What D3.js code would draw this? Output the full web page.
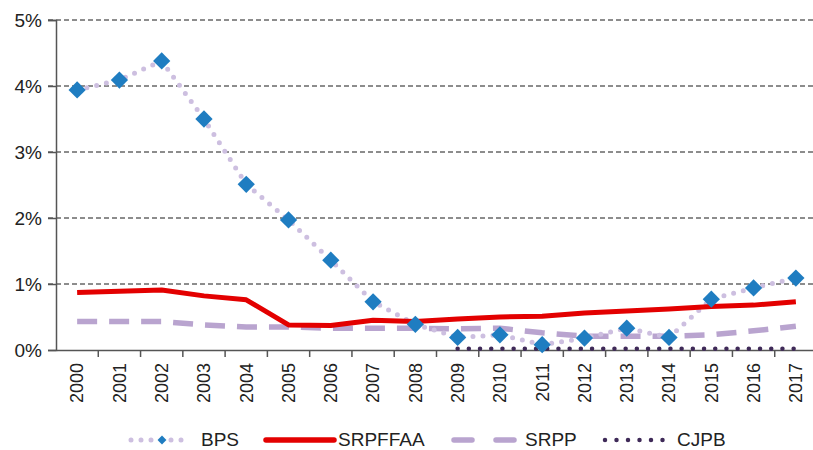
<!DOCTYPE html>
<html>
<head>
<meta charset="utf-8">
<script src="https://cdn.jsdelivr.net/npm/d3@7"></script>
<style>
  body { margin: 0; background: #fff; }
  text { font-family: "Liberation Sans", Arial, sans-serif; fill: #222; }
</style>
</head>
<body>
<div id="chart"></div>
<script>
"use strict";

const years = ["2000","2001","2002","2003","2004","2005","2006","2007","2008",
               "2009","2010","2011","2012","2013","2014","2015","2016","2017"];
const bps     = [3.94, 4.09, 4.38, 3.50, 2.51, 1.97, 1.36, 0.73, 0.39,
                 0.19, 0.23, 0.08, 0.18, 0.33, 0.19, 0.77, 0.94, 1.09];
const srpffaa = [0.87, 0.89, 0.91, 0.82, 0.76, 0.38, 0.37, 0.45, 0.43,
                 0.47, 0.50, 0.51, 0.56, 0.59, 0.62, 0.66, 0.68, 0.73];
const srpp    = [0.43, 0.43, 0.43, 0.38, 0.35, 0.35, 0.33, 0.33, 0.33,
                 0.32, 0.33, 0.26, 0.21, 0.21, 0.21, 0.23, 0.29, 0.36];
const cjpb    = [null, null, null, null, null, null, null, null, null,
                 0.02, 0.02, 0.02, 0.02, 0.02, 0.02, 0.02, 0.02, 0.02];
const yTicks  = [0, 1, 2, 3, 4, 5];

const W = 813, H = 450;
const m = { left: 56, top: 20, bottom: 100 };
const plotRight = 817;   // plot runs slightly past the picture edge

const svg = d3.select("#chart").append("svg")
              .attr("width", W)
              .attr("height", H);

const x = d3.scaleBand().domain(years).range([m.left, plotRight]);
const y = d3.scaleLinear().domain([0, 5]).range([H - m.bottom, m.top]);
const cx = d => x(d) + x.bandwidth() / 2;

// grid
svg.append("g")
   .selectAll("line")
   .data(yTicks.filter(t => t > 0))
   .enter()
   .append("line")
   .attr("x1", m.left - 8).attr("x2", W)
   .attr("y1", d => y(d)).attr("y2", d => y(d))
   .attr("stroke", "#1a1a1a")
   .attr("stroke-width", 1)
   .attr("stroke-dasharray", "5,3");

// y axis
const yAxis = svg.append("g")
   .attr("transform", `translate(${m.left},0)`)
   .call(d3.axisLeft(y).tickValues(yTicks).tickFormat(d => d + "%").tickSize(8).tickPadding(6));
yAxis.select(".domain").attr("stroke", "#555").attr("stroke-width", 1.5);
yAxis.selectAll(".tick line").attr("stroke", "#555").attr("stroke-width", 1.5);
yAxis.selectAll("text").attr("font-size", 19).style("font-family", "Liberation Sans, Arial, sans-serif").attr("fill", "#222");

// x axis
const xAxis = svg.append("g")
   .attr("transform", `translate(0,${y(0)})`)
   .call(d3.axisBottom(x).tickSize(0).tickPadding(0));
xAxis.select(".domain").attr("stroke", "#555").attr("stroke-width", 1.5);
xAxis.selectAll(".tick text")
     .attr("font-size", 18)
     .style("font-family", "Liberation Sans, Arial, sans-serif")
     .attr("fill", "#222")
     .attr("text-anchor", "end")
     .attr("dy", "0.35em")
     .attr("transform", "translate(0,13) rotate(-90)")
     .attr("x", 0).attr("y", 0);
// ticks between categories
svg.append("g")
   .selectAll("line")
   .data(years.slice(1))
   .enter()
   .append("line")
   .attr("x1", d => x(d)).attr("x2", d => x(d))
   .attr("y1", y(0)).attr("y2", y(0) + 7)
   .attr("stroke", "#555").attr("stroke-width", 1.5);

const line = d3.line()
               .defined(d => d[1] != null)
               .x(d => cx(d[0]))
               .y(d => y(d[1]));
const pts = arr => years.map((yr, i) => [yr, arr[i]]);

svg.append("path").datum(pts(srpp))
   .attr("d", line).attr("fill", "none")
   .attr("stroke", "#b9a4cf").attr("stroke-width", 5.5)
   .attr("stroke-dasharray", "20,12");

svg.append("path").datum(pts(cjpb))
   .attr("d", line).attr("fill", "none")
   .attr("stroke", "#3f2a58").attr("stroke-width", 4.5)
   .attr("stroke-linecap", "round")
   .attr("stroke-dasharray", "0,11.2");

svg.append("path").datum(pts(bps))
   .attr("d", line).attr("fill", "none")
   .attr("stroke", "#cdbfe0").attr("stroke-width", 5)
   .attr("stroke-linecap", "round")
   .attr("stroke-dasharray", "0,10");

svg.append("path").datum(pts(srpffaa))
   .attr("d", line).attr("fill", "none")
   .attr("stroke", "#e30000").attr("stroke-width", 5)
   .attr("stroke-linejoin", "round");

const diamond = d3.symbol().type(d3.symbolDiamond2).size(190);
svg.append("g")
   .selectAll("path")
   .data(pts(bps))
   .enter()
   .append("path")
   .attr("d", diamond)
   .attr("transform", d => `translate(${cx(d[0])},${y(d[1])})`)
   .attr("fill", "#1f7dc1");

// legend
const legendY = 440;
const lg = svg.append("g");
lg.append("line").attr("x1", 131).attr("x2", 191).attr("y1", legendY).attr("y2", legendY)
  .attr("stroke", "#cdbfe0").attr("stroke-width", 5).attr("stroke-linecap", "round").attr("stroke-dasharray", "0,10");
lg.append("path").attr("d", d3.symbol().type(d3.symbolDiamond2).size(50))
  .attr("transform", `translate(162,${legendY})`).attr("fill", "#1f7dc1");
lg.append("text").attr("x", 201).attr("y", legendY + 6).attr("font-size", 19).text("BPS");

lg.append("line").attr("x1", 266).attr("x2", 334).attr("y1", legendY).attr("y2", legendY)
  .attr("stroke", "#e30000").attr("stroke-width", 5.5).attr("stroke-linecap", "round");
lg.append("text").attr("x", 338).attr("y", legendY + 6).attr("font-size", 19).text("SRPFFAA");

lg.append("line").attr("x1", 454).attr("x2", 514).attr("y1", legendY).attr("y2", legendY)
  .attr("stroke", "#b9a4cf").attr("stroke-width", 5.5).attr("stroke-linecap", "round").attr("stroke-dasharray", "18,24");
lg.append("text").attr("x", 525).attr("y", legendY + 6).attr("font-size", 19).text("SRPP");

lg.append("line").attr("x1", 605).attr("x2", 665).attr("y1", legendY).attr("y2", legendY)
  .attr("stroke", "#3f2a58").attr("stroke-width", 4.5).attr("stroke-linecap", "round").attr("stroke-dasharray", "0,11.5");
lg.append("text").attr("x", 677).attr("y", legendY + 6).attr("font-size", 19).text("CJPB");
</script>
</body>
</html>
